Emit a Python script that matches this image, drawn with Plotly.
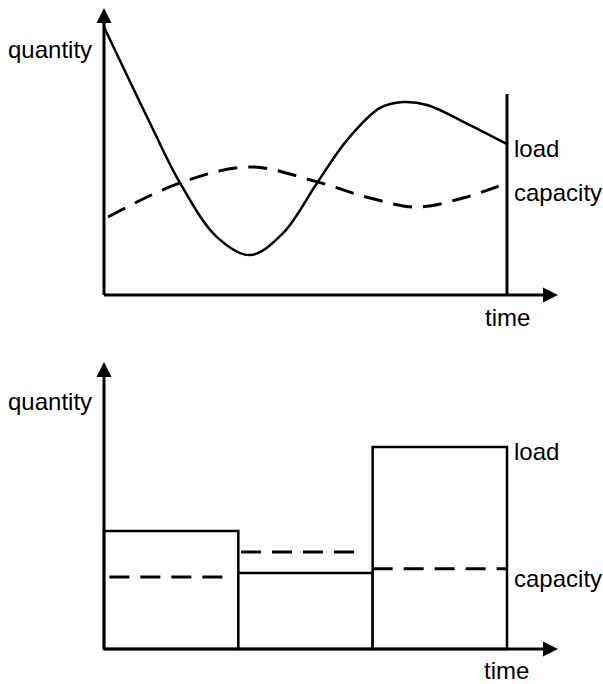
import plotly.graph_objects as go

# ---------------- data ----------------
# top panel: continuous load and capacity over time
load_time = [0, 0.342, 0.566, 0.841, 1.087, 1.333, 1.586, 1.809, 2.055, 2.226, 2.405, 2.724, 3.0]
load_vals = [10.0, 6.42, 4.18, 2.16, 1.49, 2.31, 4.18, 5.78, 6.98, 7.20, 7.09, 6.34, 5.63]
cap_time = [0.03, 0.566, 1.087, 1.586, 1.980, 2.330, 2.673, 3.0]
cap_vals = [2.91, 4.18, 4.78, 4.22, 3.62, 3.28, 3.62, 4.18]
end_time = 3.0
end_line_top = 7.5

# bottom panel: piecewise-constant load and capacity per period
periods = [0.5, 1.5, 2.5]
period_load = [4.40, 2.84, 7.54]
period_cap = [2.69, 3.62, 2.99]
cap_seg_start = [0.04, 1.02, 2.0]
cap_seg_end = [0.92, 1.89, 3.0]

# labels
y_label = "quantity"
x_label = "time"
load_label = "load"
cap_label = "capacity"

# ---------------- layout geometry ----------------
W, H = 603, 684
X0_PX = 104.0          # pixel of time 0
PX_PER_T = 134.33
PX_PER_Q = 26.8
TOP_AXIS_PX = 295.0
BOT_AXIS_PX = 649.0
SPLIT_PX = 340.0

x_range = [-X0_PX / PX_PER_T, (W - X0_PX) / PX_PER_T]
top_range = [(TOP_AXIS_PX - SPLIT_PX) / PX_PER_Q, TOP_AXIS_PX / PX_PER_Q]
bot_range = [(BOT_AXIS_PX - H) / PX_PER_Q, (BOT_AXIS_PX - SPLIT_PX) / PX_PER_Q]
split = 1 - SPLIT_PX / H

x_tip = (558 - X0_PX) / PX_PER_T
y_tip = (TOP_AXIS_PX - 8) / PX_PER_Q
y_tip_b = (BOT_AXIS_PX - 362) / PX_PER_Q

FONT = "Liberation Sans, Arial, sans-serif"
FS = 24
DASH = "19px,11px"

fig = go.Figure()

# top panel
fig.add_trace(go.Scatter(x=cap_time, y=cap_vals, mode="lines",
                         line=dict(color="black", width=3, dash=DASH, shape="spline", smoothing=1.0),
                         xaxis="x", yaxis="y", hoverinfo="skip"))
fig.add_trace(go.Scatter(x=load_time, y=load_vals, mode="lines",
                         line=dict(color="black", width=2.5, shape="spline", smoothing=1.0),
                         xaxis="x", yaxis="y", hoverinfo="skip"))
fig.add_trace(go.Scatter(x=[end_time, end_time], y=[0, end_line_top], mode="lines",
                         line=dict(color="black", width=3),
                         xaxis="x", yaxis="y", hoverinfo="skip"))

# bottom panel
fig.add_trace(go.Bar(x=periods, y=period_load, width=1,
                     marker=dict(color="white", line=dict(color="black", width=2.5)),
                     xaxis="x2", yaxis="y2", hoverinfo="skip"))
for s, e, c in zip(cap_seg_start, cap_seg_end, period_cap):
    fig.add_trace(go.Scatter(x=[s, e], y=[c, c], mode="lines",
                             line=dict(color="black", width=3, dash="20px,11px"),
                             xaxis="x2", yaxis="y2", hoverinfo="skip"))

annotations = []
for xr, yr, ytip in (("x", "y", y_tip), ("x2", "y2", y_tip_b)):
    # y axis arrow
    annotations.append(dict(x=0, y=ytip, ax=0, ay=-0.06, xref=xr, yref=yr, axref=xr, ayref=yr,
                            showarrow=True, arrowhead=2, arrowsize=1, arrowwidth=3,
                            arrowcolor="black", text=""))
    # x axis arrow
    annotations.append(dict(x=x_tip, y=0, ax=-0.011, ay=0, xref=xr, yref=yr, axref=xr, ayref=yr,
                            showarrow=True, arrowhead=2, arrowsize=1, arrowwidth=3,
                            arrowcolor="black", text=""))

def txt(t, x, y, xr, yr, xanchor):
    return dict(text=t, x=x, y=y, xref=xr, yref=yr, showarrow=False,
                xanchor=xanchor, yanchor="middle",
                font=dict(family=FONT, size=FS, color="black"))

# top texts
annotations.append(txt(y_label, -0.075, (TOP_AXIS_PX - 49) / PX_PER_Q, "x", "y", "right"))
annotations.append(txt(load_label, 3.035, (TOP_AXIS_PX - 148) / PX_PER_Q, "x", "y", "left"))
annotations.append(txt(cap_label, 3.035, (TOP_AXIS_PX - 192) / PX_PER_Q, "x", "y", "left"))
annotations.append(txt(x_label, 3.007, (TOP_AXIS_PX - 317) / PX_PER_Q, "x", "y", "center"))
# bottom texts
annotations.append(txt(y_label, -0.075, (BOT_AXIS_PX - 402) / PX_PER_Q, "x2", "y2", "right"))
annotations.append(txt(load_label, 3.035, (BOT_AXIS_PX - 452) / PX_PER_Q, "x2", "y2", "left"))
annotations.append(txt(cap_label, 3.035, (BOT_AXIS_PX - 578) / PX_PER_Q, "x2", "y2", "left"))
annotations.append(txt(x_label, 3.0, (BOT_AXIS_PX - 670) / PX_PER_Q, "x2", "y2", "center"))

ax_common = dict(visible=False, showgrid=False, zeroline=False, fixedrange=True)
fig.update_layout(
    width=W, height=H,
    margin=dict(l=0, r=0, t=0, b=0, pad=0),
    paper_bgcolor="white", plot_bgcolor="white",
    showlegend=False,
    xaxis=dict(domain=[0, 1], range=x_range, anchor="y", **ax_common),
    yaxis=dict(domain=[split, 1], range=top_range, anchor="x", **ax_common),
    xaxis2=dict(domain=[0, 1], range=x_range, anchor="y2", **ax_common),
    yaxis2=dict(domain=[0, split], range=bot_range, anchor="x2", **ax_common),
    annotations=annotations,
    barmode="overlay",
)

fig.write_html("out.html", config={"displayModeBar": False},
               post_script="document.body.style.margin='0';document.body.style.overflow='hidden';")
